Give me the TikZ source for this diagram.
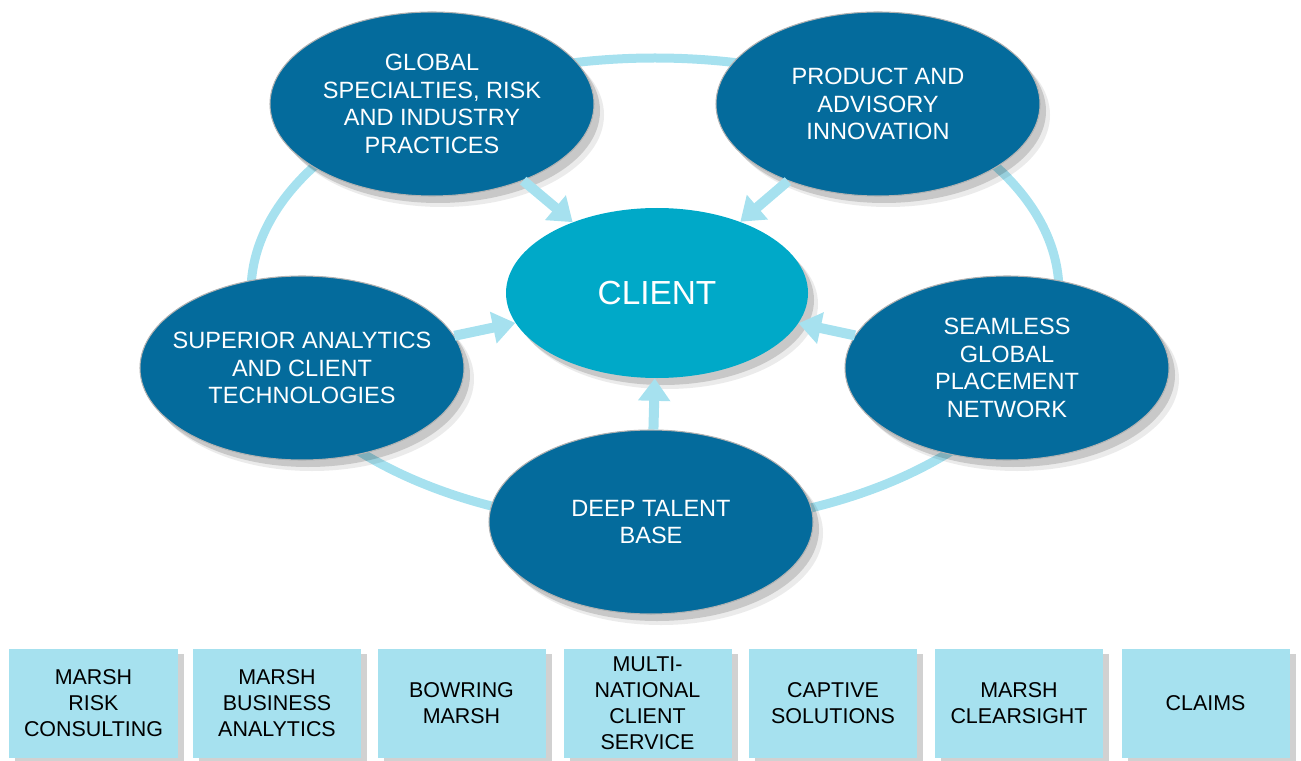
\documentclass[tikz,border=0pt]{standalone}
\usepackage{fontspec}
\setmainfont{Liberation Sans}
\usetikzlibrary{shapes.geometric, arrows.meta, shadows}
\definecolor{deepblue}{HTML}{046B9C}
\definecolor{clientblue}{HTML}{00A9C8}
\definecolor{paleblue}{HTML}{A6E1EF}
\tikzstyle{bubble} = [ellipse, minimum width=6.48cm, minimum height=3.68cm, inner sep=-0.6cm, align=center, text=white, draw=gray!60, line width=0.6pt, fill=deepblue, font=\fontsize{13.4}{15.6}\selectfont, drop shadow={shadow xshift=0.2cm, shadow yshift=-0.22cm, fill=black, opacity=0.08}, drop shadow={shadow xshift=0.12cm, shadow yshift=-0.14cm, fill=black, opacity=0.15}]
\tikzstyle{hub} = [ellipse, minimum width=6.04cm, minimum height=3.4cm, inner sep=0pt, text=white, fill=clientblue, font=\fontsize{19}{22}\selectfont, drop shadow={shadow xshift=0.2cm, shadow yshift=-0.22cm, fill=black, opacity=0.08}, drop shadow={shadow xshift=0.12cm, shadow yshift=-0.14cm, fill=black, opacity=0.15}]
\tikzstyle{service} = [rectangle, minimum width=3.36cm, minimum height=2.18cm, inner sep=0pt, align=center, text=black, fill=paleblue, font=\fontsize{12.2}{14.8}\selectfont, drop shadow={shadow xshift=0.12cm, shadow yshift=-0.1cm, fill=black, opacity=0.18}]
\tikzstyle{ring} = [line width=0.18cm, draw=paleblue]
\tikzstyle{arrow} = [line width=0.2cm, draw=paleblue, -{Triangle[length=0.45cm, width=0.62cm]}]

\begin{document}
\begin{tikzpicture}
\useasboundingbox (0,0) rectangle (26.02,-15.22);

% ring behind the bubbles
\coordinate (ctr) at (13.10,-5.84);
\draw [ring] (ctr) ellipse [x radius=8.08cm, y radius=4.68cm];

\node (glob) [bubble, xshift=8.64cm, yshift=-2.08cm] {GLOBAL\\SPECIALTIES, RISK\\AND INDUSTRY\\PRACTICES};
\node (prod) [bubble, xshift=17.56cm, yshift=-2.08cm] {PRODUCT AND\\ADVISORY\\INNOVATION};
\node (anal) [bubble, xshift=6.04cm, yshift=-7.36cm] {SUPERIOR ANALYTICS\\AND CLIENT\\TECHNOLOGIES};
\node (place) [bubble, xshift=20.14cm, yshift=-7.36cm] {SEAMLESS\\GLOBAL\\PLACEMENT\\NETWORK};
\node (talent) [bubble, xshift=13.02cm, yshift=-10.44cm] {DEEP TALENT\\BASE};
\node (client) [hub, xshift=13.14cm, yshift=-5.86cm] {CLIENT};

\node (mrc) [service, xshift=1.87cm, yshift=-14.07cm] {MARSH\\RISK\\CONSULTING};
\node (mba) [service, xshift=5.54cm, yshift=-14.07cm] {MARSH\\BUSINESS\\ANALYTICS};
\node (bow) [service, xshift=9.23cm, yshift=-14.07cm] {BOWRING\\MARSH};
\node (mnc) [service, xshift=12.95cm, yshift=-14.07cm] {MULTI-\\NATIONAL\\CLIENT\\SERVICE};
\node (cap) [service, xshift=16.66cm, yshift=-14.07cm] {CAPTIVE\\SOLUTIONS};
\node (clr) [service, xshift=20.38cm, yshift=-14.07cm] {MARSH\\CLEARSIGHT};
\node (clm) [service, xshift=24.11cm, yshift=-14.07cm] {CLAIMS};

\draw [arrow] (glob) -- (client);
\draw [arrow] (prod) -- (client);
\draw [arrow] (anal) -- (client);
\draw [arrow] (place) -- (client);
\draw [arrow] (talent) -- (client);
\end{tikzpicture}
\end{document}
